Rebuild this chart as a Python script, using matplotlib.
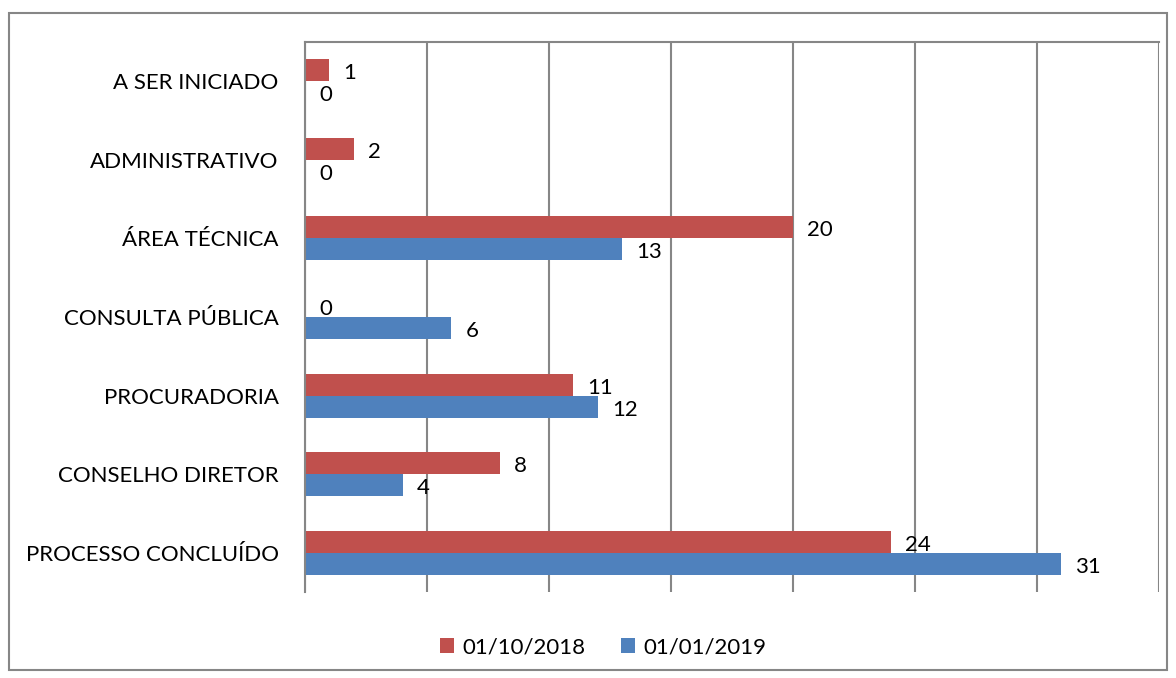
import matplotlib.pyplot as plt
import numpy as np
from matplotlib.patches import Rectangle

categories = ['A SER INICIADO', 'ADMINISTRATIVO', 'ÁREA TÉCNICA', 'CONSULTA PÚBLICA',
              'PROCURADORIA', 'CONSELHO DIRETOR', 'PROCESSO CONCLUÍDO']
serie_2018 = [1, 2, 20, 0, 11, 8, 24]
serie_2019 = [0, 0, 13, 6, 12, 4, 31]
rotulos = ['01/10/2018', '01/01/2019']

vermelho = '#C0504D'
azul = '#4F81BD'
cinza = '#868686'

plt.rcParams['font.family'] = ['Lato', 'DejaVu Sans']
fs = 16

fig = plt.figure(figsize=(11.76, 6.78), dpi=100)
W, H = 1176, 678
ax = fig.add_axes([305 / W, 1 - 592 / H, (1159 - 305) / W, (592 - 42) / H])

y = np.arange(len(categories))
h = 0.28
b1 = ax.barh(y - h / 2, serie_2018, height=h, color=vermelho, label=rotulos[0])
b2 = ax.barh(y + h / 2, serie_2019, height=h, color=azul, label=rotulos[1])

for barras in (b1, b2):
    for r in barras:
        v = r.get_width()
        ax.annotate(f'{v:g}', (v, r.get_y() + r.get_height() / 2),
                    xytext=(14, -3), textcoords='offset pixels',
                    ha='left', va='center', fontsize=fs)

ax.set_xlim(0, 35)
ax.set_ylim(len(categories) - 0.5, -0.5)
ax.set_xticks(np.arange(0, 36, 5))
ax.set_xticklabels([])
ax.tick_params(axis='x', length=0)
ax.tick_params(axis='y', length=0, pad=19, labelsize=fs)
ax.set_yticks(y)
ax.set_yticklabels(categories)
ax.grid(axis='x', color=cinza, linewidth=1.5)
ax.set_axisbelow(True)
for s in ('bottom', 'right'):
    ax.spines[s].set_visible(False)
for s in ('top', 'left'):
    ax.spines[s].set_color(cinza)
    ax.spines[s].set_linewidth(1.5)

fig.legend(handles=[b1, b2], labels=rotulos, loc='center', bbox_to_anchor=(603 / W, 1 - 647 / H),
           ncol=2, frameon=False, fontsize=fs, handlelength=0.65, handleheight=0.65,
           handletextpad=0.35, columnspacing=1.6)

fig.patches.append(Rectangle((9 / W, 1 - 670 / H), (1167 - 9) / W, (670 - 13) / H,
                             transform=fig.transFigure, fill=False, edgecolor=cinza, linewidth=1.5))

fig.savefig('out.png', dpi=100)
